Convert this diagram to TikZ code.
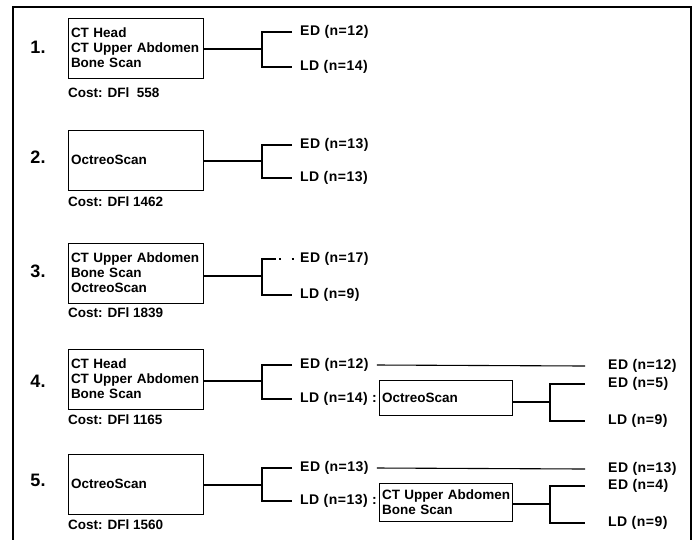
\documentclass[tikz,border=0pt]{standalone}
\usepackage{fontspec}
\setmainfont{Liberation Sans}
\newcommand{\boxline}[1]{\mbox{#1}}
\begin{document}
\begin{tikzpicture}[x=1pt,y=-1pt,
  every node/.style={font=\fontsize{13.5}{15}\selectfont\bfseries, inner sep=0pt},
  testbox/.style={draw, line width=0.9pt, font=\fontsize{13.5}{15}\selectfont\bfseries, text width=129pt, align=left, minimum height=60pt, inner xsep=3pt, anchor=center},
  subbox/.style={draw, line width=0.9pt, text width=127pt, align=left, inner xsep=3pt, anchor=center},
  num/.style={font=\fontsize{18}{20}\selectfont\bfseries},
  lbl/.style={anchor=west, font=\fontsize{14}{15}\selectfont\bfseries\addfontfeature{LetterSpace=3.5}},
  cost/.style={anchor=west},
  conn/.style={line width=1.1pt},
  frame/.style={line width=2pt},
  dotty/.style={line width=1.1pt, dash pattern=on 0pt off 3pt on 1.5pt off 11pt on 2pt off 20pt}]
\useasboundingbox (0,0) rectangle (700,539);
\draw[frame] (13,545) -- (13,7) -- (691,7) -- (691,545);

% Row 1
\node[num] (n1) at (38,47) {1.};
\node[testbox] (b1) at (135.5,48) {\boxline{CT Head}\\\boxline{CT Upper Abdomen}\\\boxline{Bone Scan}};
\node[cost] (c1) at (68,93) {Cost: DFl\ \ 558};
\coordinate (s1) at (262,49);
\node[lbl] (e1) at (300,32) {ED (n=12)};
\node[lbl] (l1) at (300,67) {LD (n=14)};
\draw[conn] (b1.east |- s1) -- (s1);
\draw[conn] ([xshift=-8pt]e1.west) -| (s1) |- ([xshift=-8pt]l1.west);

% Row 2
\node[num] (n2) at (38,157) {2.};
\node[testbox] (b2) at (135.5,160) {OctreoScan};
\node[cost] (c2) at (68,202) {Cost: DFl 1462};
\coordinate (s2) at (262,161);
\node[lbl] (e2) at (300,145) {ED (n=13)};
\node[lbl] (l2) at (300,178) {LD (n=13)};
\draw[conn] (b2.east |- s2) -- (s2);
\draw[conn] ([xshift=-8pt]e2.west) -| (s2) |- ([xshift=-8pt]l2.west);

% Row 3
\node[num] (n3) at (38,271) {3.};
\node[testbox] (b3) at (135.5,273) {\boxline{CT Upper Abdomen}\\\boxline{Bone Scan}\\\boxline{OctreoScan}};
\node[cost] (c3) at (68,313) {Cost: DFl 1839};
\coordinate (s3) at (262,276);
\coordinate (k3) at (276,259);
\node[lbl] (e3) at (300,259) {ED (n=17)};
\node[lbl] (l3) at (300,295) {LD (n=9)};
\draw[conn] (b3.east |- s3) -- (s3);
\draw[conn] (s3) |- ([xshift=-8pt]l3.west);
\draw[conn] (s3) |- (k3);
\draw[dotty] (k3) -- ([xshift=-6pt]e3.west);

% Row 4
\node[num] (n4) at (38,381) {4.};
\node[testbox] (b4) at (135.5,379) {\boxline{CT Head}\\\boxline{CT Upper Abdomen}\\\boxline{Bone Scan}};
\node[cost] (c4) at (68,420) {Cost: DFl 1165};
\coordinate (s4) at (262,381);
\node[lbl] (e4) at (300,365) {ED (n=12)};
\node[lbl] (l4) at (300,399) {LD (n=14) :};
\draw[conn] (b4.east |- s4) -- (s4);
\draw[conn] ([xshift=-8pt]e4.west) -| (s4) |- ([xshift=-8pt]l4.west);
\node[subbox, minimum height=35pt] (sb4) at (445.5,398) {OctreoScan};
\coordinate (t4) at (550,402);
\node[lbl] (re4) at (608,366) {ED (n=12)};
\node[lbl] (re4a) at (608,384) {ED (n=5)};
\node[lbl] (rl4) at (608,421) {LD (n=9)};
\draw[conn] ([xshift=8pt]e4.east) -- ([xshift=-23pt]re4.west);
\draw[conn] (sb4.east |- t4) -- (t4);
\draw[conn] ([xshift=-23pt]re4a.west) -| (t4) |- ([xshift=-23pt]rl4.west);

% Row 5
\node[num] (n5) at (38,480) {5.};
\node[testbox] (b5) at (135.5,484) {OctreoScan};
\node[cost] (c5) at (68,525) {Cost: DFl 1560};
\coordinate (s5) at (262,485);
\node[lbl] (e5) at (300,468) {ED (n=13)};
\node[lbl] (l5) at (300,501) {LD (n=13) :};
\draw[conn] (b5.east |- s5) -- (s5);
\draw[conn] ([xshift=-8pt]e5.west) -| (s5) |- ([xshift=-8pt]l5.west);
\node[subbox, minimum height=38pt] (sb5) at (445.5,502.5) {\boxline{CT Upper Abdomen}\\\boxline{Bone Scan}};
\coordinate (t5) at (550,504);
\node[lbl] (re5) at (608,469) {ED (n=13)};
\node[lbl] (re5a) at (608,486) {ED (n=4)};
\node[lbl] (rl5) at (608,523) {LD (n=9)};
\draw[conn] ([xshift=8pt]e5.east) -- ([xshift=-23pt]re5.west);
\draw[conn] (sb5.east |- t5) -- (t5);
\draw[conn] ([xshift=-23pt]re5a.west) -| (t5) |- ([xshift=-23pt]rl5.west);
\end{tikzpicture}
\end{document}
